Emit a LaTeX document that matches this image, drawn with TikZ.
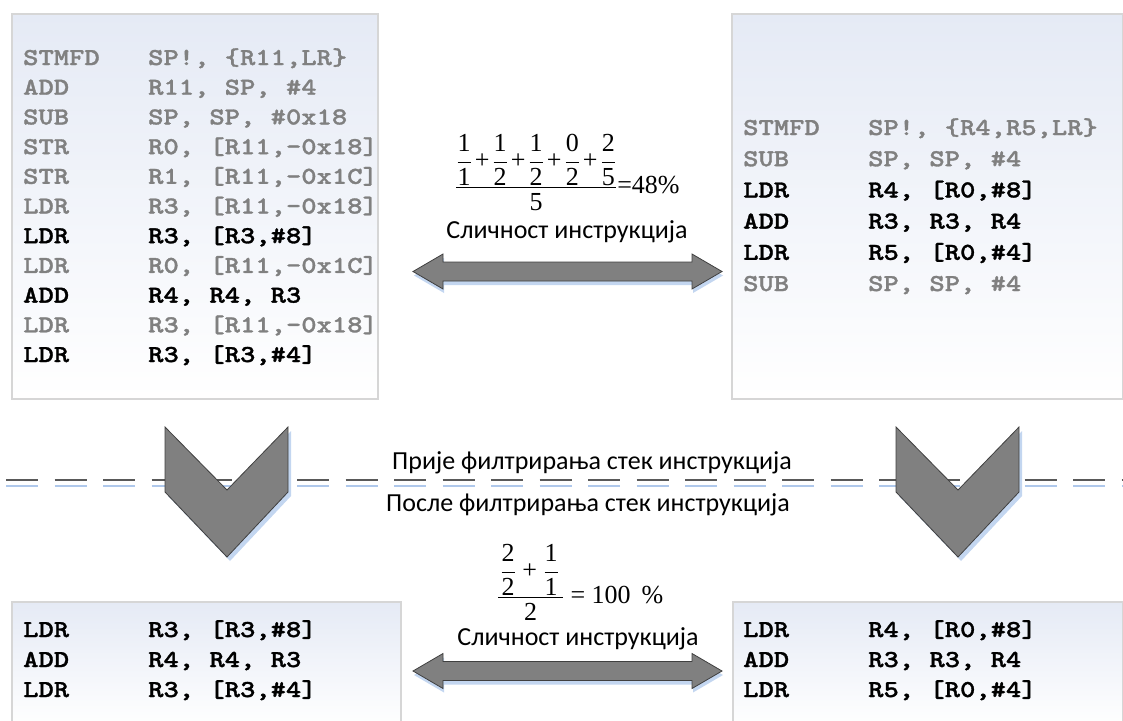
\documentclass[tikz,border=0pt]{standalone}
\usepackage{fontspec}
\setmainfont{Carlito}
\newfontfamily\codefont[Extension=.otf, FakeStretch=1.2, FakeBold=1.3]{lmmonolt10-bold}
\newfontfamily\numfont{Liberation Serif}
\usetikzlibrary{calc}

\definecolor{codegray}{RGB}{128,128,128}
\definecolor{boxtop}{RGB}{229,234,245}
\definecolor{boxline}{RGB}{214,214,214}
\definecolor{shapefill}{RGB}{128,128,128}
\definecolor{shapeline}{RGB}{64,64,64}
\definecolor{shadowblue}{RGB}{175,200,235}
\definecolor{dashgray}{RGB}{89,89,89}

% one line of assembly: style, name, x, baseline, mnemonic, operands
\newcommand\opline[6]{%
  \node[#1] (#2m) at (#3,#4) {#5};
  \node[#1] (#2o) at ($(#2m.base west)+(125,0)$) {#6};}
% a plus sign with a little room on both sides
\newcommand\tplus{\mbox{\kern3pt+\kern3pt}}
% a fraction of two plain numbers, full size
\newcommand\nfrac[2]{\displaystyle\frac{\mbox{#1}}{\mbox{#2}}}

\begin{document}
\begin{tikzpicture}[x=1pt,y=-1pt,
  panel/.style={draw=boxline, line width=1.5pt, top color=boxtop, bottom color=white,
    inner sep=0, anchor=north west},
  opcode/.style={font=\codefont\fontsize{24.3}{30}\selectfont, inner sep=0, anchor=base west},
  dim/.style={opcode, text=codegray},
  live/.style={opcode, text=black},
  caption/.style={font=\fontsize{26}{30}\selectfont, inner sep=0},
  formula/.style={font=\numfont\fontsize{26}{30}\selectfont, inner sep=0, anchor=base west},
  blockshape/.style={fill=shapefill, draw=shapeline, line width=0.8pt, line join=miter},
  blockshadow/.style={fill=shadowblue, opacity=0.75},
  sepline/.style={draw=dashgray, line width=2.2pt, dash pattern=on 32pt off 16.5pt},
  sepshadow/.style={draw=shadowblue, line width=1.3pt, dash pattern=on 32pt off 16.5pt},
  duplex/.pic={\path[pic actions] (0,0) -- (30,-17.5) -- (30,-9.5) -- (279,-9.5) -- (279,-17.5)
    -- (309,0) -- (279,17.5) -- (279,9.5) -- (30,9.5) -- (30,17.5) -- cycle;},
  chevron/.pic={\path[pic actions] (0,0) -- (62,63) -- (123,0) -- (123,65) -- (62,130)
    -- (0,65) -- cycle;},
]
\useasboundingbox (0,0) rectangle (1123,720);

% panels
\node[panel, minimum width=366pt, minimum height=385pt] (tl) at (11,13) {};
\node[panel, minimum width=391pt, minimum height=385pt] (tr) at (731,13) {};
\node[panel, minimum width=389pt, minimum height=125pt] (bl) at (11,601) {};
\node[panel, minimum width=390pt, minimum height=125pt] (br) at (732,601) {};

% original function, left
\opline{dim}{a1}{23}{65}{STMFD}{SP!, \{R11,LR\}}
\opline{dim}{a2}{23}{94.7}{ADD}{R11, SP, \#4}
\opline{dim}{a3}{23}{124.4}{SUB}{SP, SP, \#0x18}
\opline{dim}{a4}{23}{154.1}{STR}{R0, [R11,-0x18]}
\opline{dim}{a5}{23}{183.8}{STR}{R1, [R11,-0x1C]}
\opline{dim}{a6}{23}{213.5}{LDR}{R3, [R11,-0x18]}
\opline{live}{a7}{23}{243.2}{LDR}{R3, [R3,\#8]}
\opline{dim}{a8}{23}{272.9}{LDR}{R0, [R11,-0x1C]}
\opline{live}{a9}{23}{302.6}{ADD}{R4, R4, R3}
\opline{dim}{a10}{23}{332.3}{LDR}{R3, [R11,-0x18]}
\opline{live}{a11}{23}{362}{LDR}{R3, [R3,\#4]}

% original function, right
\opline{dim}{b1}{743}{135}{STMFD}{SP!, \{R4,R5,LR\}}
\opline{dim}{b2}{743}{166.2}{SUB}{SP, SP, \#4}
\opline{live}{b3}{743}{197.4}{LDR}{R4, [R0,\#8]}
\opline{live}{b4}{743}{228.6}{ADD}{R3, R3, R4}
\opline{live}{b5}{743}{259.8}{LDR}{R5, [R0,\#4]}
\opline{dim}{b6}{743}{291}{SUB}{SP, SP, \#4}

% filtered, left
\opline{live}{c1}{23}{637}{LDR}{R3, [R3,\#8]}
\opline{live}{c2}{23}{667}{ADD}{R4, R4, R3}
\opline{live}{c3}{23}{697}{LDR}{R3, [R3,\#4]}

% filtered, right
\opline{live}{d1}{743}{637}{LDR}{R4, [R0,\#8]}
\opline{live}{d2}{743}{667}{ADD}{R3, R3, R4}
\opline{live}{d3}{743}{697}{LDR}{R5, [R0,\#4]}

% similarity before filtering
\node[formula] (simtop) at (455,193.5)
  {$\displaystyle\frac{\nfrac{1}{1}\tplus\nfrac{1}{2}\tplus\nfrac{1}{2}\tplus\nfrac{0}{2}\tplus\nfrac{2}{5}}{\mbox{5}}\mbox{=48\%}$};
\node[caption] (simtoplbl) at (567,232) {Сличност инструкција};
\coordinate (simtopL) at (413,271.5);
\pic[blockshadow] at ($(simtopL)+(1,4)$) {duplex};
\pic[blockshape] at (simtopL) {duplex};

% separator between the two stages
\coordinate (sepL) at (6,480);
\coordinate (sepR) at (1123,480);
\draw[sepshadow] ($(sepL)+(0,6)$) -- ($(sepR)+(0,6)$);
\draw[sepline] (sepL) -- (sepR);
\node[caption] (before) at (592,463) {Прије филтрирања стек инструкција};
\node[caption] (after) at (588,505) {После филтрирања стек инструкција};

% downward chevrons
\coordinate (chevL) at (165,427);
\coordinate (chevR) at (896,427);
\pic[blockshadow] at ($(chevL)+(3,4)$) {chevron};
\pic[blockshape] at (chevL) {chevron};
\pic[blockshadow] at ($(chevR)+(3,4)$) {chevron};
\pic[blockshape] at (chevR) {chevron};

% similarity after filtering
\node[formula] (simbot) at (497,603)
  {$\displaystyle\frac{\mbox{\kern2pt}\nfrac{2}{2}\mbox{ + }\nfrac{1}{1}\mbox{\kern4pt}}{\mbox{2}}\mbox{ = 100 \,\%}$};
\node[caption] (simbotlbl) at (578,639) {Сличност инструкција};
\coordinate (simbotL) at (413,671);
\pic[blockshadow] at ($(simbotL)+(1,4)$) {duplex};
\pic[blockshape] at (simbotL) {duplex};
\end{tikzpicture}
\end{document}
